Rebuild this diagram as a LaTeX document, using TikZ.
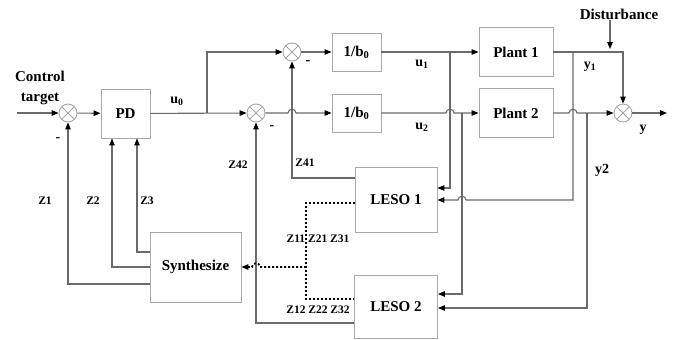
\documentclass[tikz,border=0pt]{standalone}
\usepackage{fontspec}
\setmainfont{Liberation Serif}
\usetikzlibrary{arrows.meta}
\definecolor{linegray}{HTML}{6A6A6A}
\definecolor{boxgray}{HTML}{A8A8A8}
\begin{document}
\begin{tikzpicture}[x=1pt,y=-1pt,
  box/.style={draw=boxgray,line width=0.9pt,fill=white,inner sep=0pt,font=\bfseries\fontsize{15}{17}\selectfont},
  sumnode/.style={circle,draw=boxgray,line width=0.9pt,minimum size=18pt,inner sep=0pt,
    path picture={\draw[boxgray,line width=0.9pt] (path picture bounding box.south west) -- (path picture bounding box.north east)
      (path picture bounding box.north west) -- (path picture bounding box.south east);}},
  conn/.style={draw=linegray,line width=1.1pt},
  arr/.style={-{Triangle[length=7pt,width=5.5pt,color=black]}},
  dotline/.style={draw=black,line width=1.8pt,dash pattern=on 2pt off 2pt},
  lbl/.style={inner sep=0pt,font=\bfseries\fontsize{14}{16}\selectfont},
  zlbl/.style={inner sep=0pt,font=\bfseries\fontsize{11.5}{13}\selectfont},
  big/.style={inner sep=0pt,font=\bfseries\fontsize{15}{16}\selectfont,align=center}]
\path[use as bounding box,fill=white] (0,0) rectangle (673,340);

% blocks
\node[box,minimum width=49pt,minimum height=49pt] (pd) at (125.5,113.5) {PD};
\node[box,minimum width=49pt,minimum height=38pt] (b1) at (356.5,52) {1/b\textsubscript{0}};
\node[box,minimum width=49pt,minimum height=38pt] (b2) at (356.5,113) {1/b\textsubscript{0}};
\node[box,minimum width=74pt,minimum height=49pt] (p1) at (516,52) {Plant 1};
\node[box,minimum width=74pt,minimum height=49pt] (p2) at (516,113) {Plant 2};
\node[box,minimum width=82pt,minimum height=65pt] (l1) at (396,200) {LESO 1};
\node[box,minimum width=83pt,minimum height=63pt] (l2) at (396,307) {LESO 2};
\node[box,minimum width=91pt,minimum height=70pt] (syn) at (195.5,267) {Synthesize};

% summing junctions
\node[sumnode] (s0) at (68,113) {};
\node[sumnode] (s1) at (292,52) {};
\node[sumnode] (s2) at (256,113) {};
\node[sumnode] (s3) at (623,113) {};

% free ends and junctions
\coordinate (in) at (17,113);
\coordinate (br) at (207,113);
\coordinate (j1) at (450,52);
\coordinate (j2) at (462,113);
\coordinate (j3) at (573,52);
\coordinate (j4) at (587,113);
\coordinate (out) at (667,113);
\coordinate (dist) at (610,20);
\coordinate (dtip) at (610,49);
\coordinate (dj) at (306,267);
\coordinate (dend) at (249,267);

% main path
\draw[conn,arr] (in) -- (s0);
\draw[conn,arr] (s0) -- (pd);
\draw[conn,arr] (pd) -- (s2);
\draw[conn,arr] (br) |- (s1);
\draw[conn,arr] (s1) -- (b1);
\draw[conn,arr] (s2) -- (288,113) .. controls (288,108) and (296,108) .. (296,113) -- (b2);
\draw[conn,arr] (b1) -- (p1);
\draw[conn,arr] (b2) -- (446,113) .. controls (446,108) and (454,108) .. (454,113) -- (p2);
\draw[conn,arr] (p1) -| (s3);
\draw[conn,arr] (p2) -- (569,113) .. controls (569,108) and (577,108) .. (577,113) -- (s3);
\draw[conn,arr] (s3) -- (out);
\draw[conn,arr] (dist) -- (dtip);

% to observers
\draw[conn,arr] (j1) |- ([yshift=12pt]l1.east);
\draw[conn,arr] (j3) -- (573,200) -- (466,200) .. controls (466,195) and (458,195) .. (458,200) -- (l1.east);
\draw[conn,arr] (j2) |- ([yshift=13pt]l2.east);
\draw[conn,arr] (j4) |- ([yshift=-1pt]l2.east);

% observer feedback to sums
\draw[conn,arr] ([yshift=22pt]l1.west) -| (s1);
\draw[conn,arr] ([yshift=-16pt]l2.west) -| (s2);

% dotted states
\draw[dotline] ([yshift=-3pt]l1.west) -| (dj) |- ([yshift=8pt]l2.west);
\draw[dotline] (dj) -- (260,267) .. controls (260,262) and (252,262) .. (252,267) -- (dend);
\draw[black,line width=1.3pt,arr] (dend) -- (syn.east);

% synthesize outputs
\draw[conn,arr] ([yshift=15pt]syn.west) -| ([xshift=11.5pt]pd.south);
\draw[conn,arr] (syn.west) -| ([xshift=-13.5pt]pd.south);
\draw[conn,arr] ([yshift=-17pt]syn.west) -| (s0);

% labels
\node[big] (ct) at (40,88) {Control\\[4pt]target};
\node[big] (dl) at (619,14) {Disturbance};
\node[lbl] (u0) at (177,101) {u\textsubscript{0}};
\node[lbl] (u1) at (422,64) {u\textsubscript{1}};
\node[lbl] (u2) at (422,127) {u\textsubscript{2}};
\node[lbl] (y1) at (590,67) {y\textsubscript{1}};
\node[lbl] (y2) at (602,170) {y2};
\node[lbl] (yy) at (643,130) {y};
\node[zlbl] (z1) at (45,201) {Z1};
\node[zlbl] (z2) at (93,201) {Z2};
\node[zlbl] (z3) at (147,201) {Z3};
\node[zlbl] (z42) at (238,165) {Z42};
\node[zlbl] (z41) at (305,163) {Z41};
\node[zlbl] (zs1) at (318,239) {Z11 Z21 Z31};
\node[zlbl] (zs2) at (318,310) {Z12 Z22 Z32};
\node[lbl] (m0) at (58,140) {-};
\node[lbl] (m1) at (308,63) {-};
\node[lbl] (m2) at (272,128) {-};
\end{tikzpicture}
\end{document}
